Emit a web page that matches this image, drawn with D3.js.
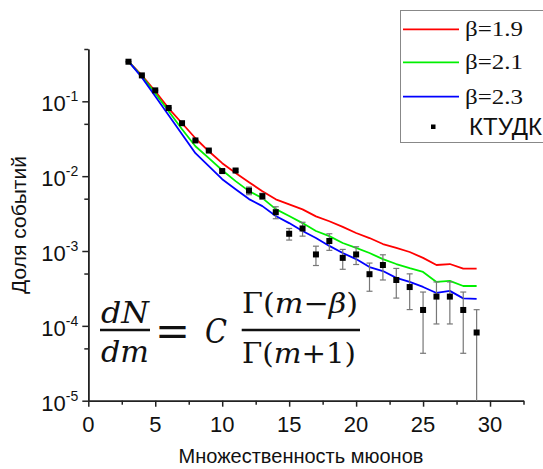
<!DOCTYPE html>
<html>
<head>
<meta charset="utf-8">
<script src="https://cdn.jsdelivr.net/npm/d3@7"></script>
<style>
  html, body { margin: 0; padding: 0; background: #fff; }
  svg { display: block; }
</style>
</head>
<body>
<svg id="chart" width="543" height="469"></svg>
<script>
// Muon multiplicity distribution: model curves for three beta values and KTUDK data
const multiplicity = [3, 4, 5, 6, 7, 8, 9, 10, 11, 12, 13, 14, 15, 16, 17, 18, 19, 20, 21, 22, 23, 24, 25, 26, 27, 28, 29];

const beta19 = [0.342, 0.222, 0.136, 0.0806, 0.0509, 0.0321, 0.0215, 0.0149, 0.0110, 0.0083, 0.0063, 0.0049, 0.0042, 0.0036,
                0.0029, 0.0025, 0.0021, 0.00174, 0.00149, 0.00124, 0.00110, 0.00097, 0.00081, 0.00065, 0.00067, 0.00058, 0.00058];
const beta21 = [0.342, 0.215, 0.128, 0.0736, 0.0423, 0.0251, 0.0174, 0.0120, 0.00858, 0.00631, 0.00509, 0.00363, 0.00293, 0.00236,
                0.00185, 0.00158, 0.00128, 0.00110, 0.00094, 0.00078, 0.00067, 0.00059, 0.000525, 0.000386, 0.000398, 0.000341, 0.000341];
const beta23 = [0.342, 0.209, 0.117, 0.0651, 0.0363, 0.0203, 0.0136, 0.0091, 0.0067, 0.00494, 0.00398, 0.00293, 0.00236, 0.00185,
                0.00149, 0.00117, 0.00094, 0.00078, 0.00061, 0.00054, 0.000437, 0.000386, 0.000331, 0.000275, 0.000293, 0.000233, 0.000229];

const ktudk    = [0.338, 0.222, 0.140, 0.0815, 0.051, 0.030, 0.022, 0.0117, 0.0119, 0.0064, 0.0054, 0.0033, 0.0017, 0.0020,
                  0.00090, 0.00136, 0.00081, 0.00090, 0.00049, 0.00065, 0.00041, 0.00033, 0.000163, 0.000246, 0.000246, 0.000163, 0.0000815];
const ktudkErr = [0.004, 0.003, 0.002, 0.0012, 0.0008, 0.0005, 0.0004, 0.0005, 0.0005, 0.00075, 0.0005, 0.0006, 0.0003, 0.00042,
                  0.00026, 0.00034, 0.00024, 0.00024, 0.0002, 0.00024, 0.000175, 0.000165, 0.00012, 0.00014, 0.00014, 0.00012, 0.000083];

const seriesNames = ["β=1.9", "β=2.1", "β=2.3"];
const seriesColors = ["#ff0000", "#00f000", "#0000ff"];
const pointsName = "КТУДК";

const xMajorTicks = [0, 5, 10, 15, 20, 25, 30];
const xMinorTicks = [2.5, 7.5, 12.5, 17.5, 22.5, 27.5, 32.5];
const yMajorExponents = [-5, -4, -3, -2, -1];
const yMinorTicks = [5e-5, 5e-4, 5e-3, 5e-2, 5e-1];

const xTitle = "Множественность мюонов";
const yTitle = "Доля событий";

const svg = d3.select("#chart");
const sansFont = "'Liberation Sans', Arial, sans-serif";
const serifFont = "'Liberation Serif', 'Times New Roman', serif";
const mathFont = "'DejaVu Serif', serif";

const x = d3.scaleLinear().domain([0, 32.5]).range([88.3, 523.5]);
const y = d3.scaleLog().domain([1e-5, 0.5]).range([400.7, 49]);

// Axes
const axisColor = "#222";
function styleAxis(g) {
  g.select(".domain").attr("stroke", axisColor).attr("stroke-width", 1.5);
  g.selectAll(".tick line").attr("stroke", axisColor).attr("stroke-width", 1.5);
  g.selectAll(".tick text").remove();
}

const y0 = y.range()[0];
svg.append("g").attr("transform", `translate(0,${y0})`)
  .call(d3.axisBottom(x).tickValues(xMajorTicks).tickSize(6).tickSizeOuter(0).tickFormat(""))
  .call(styleAxis);
svg.append("g").attr("transform", `translate(0,${y0})`)
  .call(d3.axisBottom(x).tickValues(xMinorTicks).tickSize(4).tickSizeOuter(0).tickFormat(""))
  .call(styleAxis);

const x0 = x.range()[0];
const yMajor = yMajorExponents.map(e => Math.pow(10, e));
svg.append("g").attr("transform", `translate(${x0},0)`)
  .call(d3.axisLeft(y).tickValues(yMajor).tickSize(6).tickSizeOuter(0).tickFormat(""))
  .call(styleAxis);
svg.append("g").attr("transform", `translate(${x0},0)`)
  .call(d3.axisLeft(y).tickValues(yMinorTicks).tickSize(4).tickSizeOuter(0).tickFormat(""))
  .call(styleAxis);

// X tick labels
svg.append("g").selectAll("text").data(xMajorTicks).join("text")
  .attr("x", d => x(d)).attr("y", y0 + 31)
  .attr("text-anchor", "middle")
  .attr("font-family", sansFont).attr("font-size", 22).attr("fill", "#111")
  .text(d => d);

// Y tick labels as powers of ten
const yLab = svg.append("g").selectAll("text").data(yMajorExponents).join("text")
  .attr("x", x0 - 10).attr("y", d => y(Math.pow(10, d)) + 10)
  .attr("text-anchor", "end")
  .attr("font-family", sansFont).attr("fill", "#111");
yLab.append("tspan").attr("font-size", 22).text("10");
yLab.append("tspan").attr("font-size", 14).attr("dy", -10).text(d => String(d));

// Axis titles
svg.append("text")
  .attr("x", 301).attr("y", 463)
  .attr("text-anchor", "middle")
  .attr("font-family", sansFont).attr("font-size", 20).attr("fill", "#111")
  .text(xTitle);
svg.append("text")
  .attr("transform", "translate(26,225) rotate(-90)")
  .attr("text-anchor", "middle")
  .attr("font-family", sansFont).attr("font-size", 21).attr("fill", "#111")
  .text(yTitle);

// Model curves
const line = d3.line().x(d => x(d[0])).y(d => y(d[1]));
[beta19, beta21, beta23].forEach((vals, i) => {
  svg.append("path")
    .datum(multiplicity.map((m, j) => [m, vals[j]]))
    .attr("fill", "none")
    .attr("stroke", seriesColors[i])
    .attr("stroke-width", 1.8)
    .attr("stroke-linejoin", "round")
    .attr("d", line);
});

// Data with error bars
const pts = multiplicity.map((m, j) => ({ m, v: ktudk[j], e: ktudkErr[j] }));
const yMin = y.domain()[0];
const err = svg.append("g").attr("stroke", "#777").attr("stroke-width", 1.2);
pts.forEach(p => {
  const hi = y(p.v + p.e);
  const lo = y(Math.max(p.v - p.e, yMin));
  const cx = x(p.m);
  err.append("line").attr("x1", cx).attr("x2", cx).attr("y1", hi).attr("y2", lo);
  err.append("line").attr("x1", cx - 3).attr("x2", cx + 3).attr("y1", hi).attr("y2", hi);
  if (p.v - p.e > yMin) {
    err.append("line").attr("x1", cx - 3).attr("x2", cx + 3).attr("y1", lo).attr("y2", lo);
  }
});
svg.append("g").selectAll("rect").data(pts).join("rect")
  .attr("x", p => x(p.m) - 3).attr("y", p => y(p.v) - 3)
  .attr("width", 6).attr("height", 6)
  .attr("fill", "#000");

// Legend
const leg = svg.append("g");
leg.append("rect").attr("x", 400.5).attr("y", 10.5).attr("width", 160).attr("height", 132)
  .attr("fill", "#fff").attr("stroke", "#888").attr("stroke-width", 1);
const legRows = [29.3, 62.3, 96.7];
seriesNames.forEach((name, i) => {
  leg.append("line").attr("x1", 403).attr("x2", 459)
    .attr("y1", legRows[i]).attr("y2", legRows[i])
    .attr("stroke", seriesColors[i]).attr("stroke-width", 1.8);
  leg.append("text").attr("x", 465).attr("y", legRows[i] + 7)
    .attr("font-family", serifFont).attr("font-size", 22).attr("fill", "#111")
    .attr("textLength", 58).attr("lengthAdjust", "spacingAndGlyphs")
    .text(name);
});
leg.append("rect").attr("x", 431).attr("y", 124.5).attr("width", 4.5).attr("height", 4.5).attr("fill", "#000");
leg.append("text").attr("x", 469).attr("y", 135)
  .attr("font-family", sansFont).attr("font-size", 24).attr("fill", "#111")
  .text(pointsName);

// Formula annotation
const f = svg.append("g").attr("font-family", mathFont).attr("fill", "#111");
f.append("text").attr("x", 125).attr("y", 323).attr("text-anchor", "middle")
  .attr("font-size", 30).attr("font-style", "italic")
  .attr("textLength", 48).attr("lengthAdjust", "spacingAndGlyphs").text("dN");
f.append("line").attr("x1", 100).attr("x2", 150).attr("y1", 330).attr("y2", 330)
  .attr("stroke", "#111").attr("stroke-width", 2.4);
f.append("text").attr("x", 125).attr("y", 361.5).attr("text-anchor", "middle")
  .attr("font-size", 30).attr("font-style", "italic")
  .attr("textLength", 48).attr("lengthAdjust", "spacingAndGlyphs").text("dm");
f.append("text").attr("x", 155).attr("y", 346)
  .attr("font-size", 42).attr("textLength", 35).attr("lengthAdjust", "spacingAndGlyphs").text("=");
f.append("text").attr("x", 205).attr("y", 343)
  .attr("font-size", 34).attr("font-style", "italic")
  .attr("textLength", 22).attr("lengthAdjust", "spacingAndGlyphs").text("C");
const num = f.append("text").attr("x", 242).attr("y", 312.5).attr("font-size", 28)
  .attr("textLength", 116).attr("lengthAdjust", "spacingAndGlyphs");
num.append("tspan").text("Γ(");
num.append("tspan").attr("font-style", "italic").text("m");
num.append("tspan").text("−");
num.append("tspan").attr("font-style", "italic").text("β");
num.append("tspan").text(")");
f.append("line").attr("x1", 241.7).attr("x2", 360).attr("y1", 330).attr("y2", 330)
  .attr("stroke", "#111").attr("stroke-width", 2.4);
const den = f.append("text").attr("x", 242).attr("y", 363).attr("font-size", 28)
  .attr("textLength", 114).attr("lengthAdjust", "spacingAndGlyphs");
den.append("tspan").text("Γ(");
den.append("tspan").attr("font-style", "italic").text("m");
den.append("tspan").text("+1)");
</script>
</body>
</html>
